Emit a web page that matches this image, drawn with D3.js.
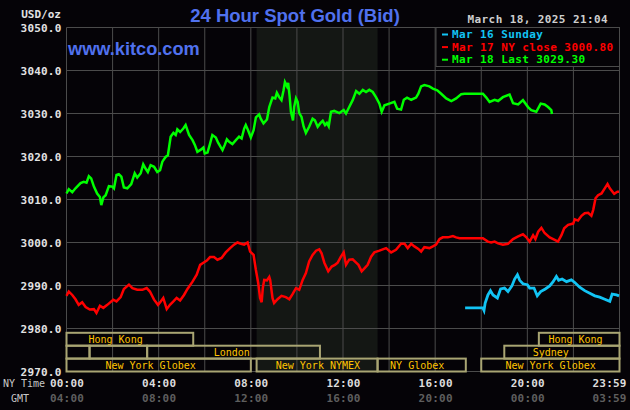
<!DOCTYPE html>
<meta charset="utf-8">
<style>
  body { margin: 0; background: #050307; }
  svg { display: block; }
  text { font-family: "DejaVu Sans Mono", monospace; }
</style>
<body>
<script src="https://d3js.org/d3.v7.min.js"></script>
<script>
  // each point is [NY time in hours, price]
  var mar18 = [[0.00,3011.4],[0.10,3012.4],[0.25,3011.7],[0.39,3012.6],[0.61,3013.8],[0.75,3014.1],[0.87,3013.9],[0.97,3015.4],[1.07,3014.9],[1.19,3013.0],[1.33,3011.4],[1.45,3010.6],[1.51,3008.7],[1.60,3010.5],[1.70,3011.0],[1.84,3013.1],[1.99,3013.0],[2.06,3012.6],[2.17,3015.7],[2.27,3015.9],[2.38,3015.3],[2.49,3012.8],[2.64,3012.6],[2.81,3013.6],[2.96,3016.1],[3.07,3015.1],[3.22,3016.1],[3.33,3018.2],[3.43,3017.2],[3.53,3016.4],[3.65,3018.0],[3.80,3017.6],[3.94,3016.4],[4.06,3016.8],[4.16,3018.8],[4.30,3019.9],[4.40,3020.3],[4.52,3024.6],[4.64,3025.5],[4.74,3025.0],[4.81,3026.3],[4.93,3025.7],[5.07,3026.5],[5.17,3027.3],[5.32,3025.0],[5.47,3023.8],[5.57,3022.7],[5.68,3021.1],[5.83,3021.6],[5.94,3022.1],[6.00,3020.7],[6.12,3020.9],[6.23,3023.0],[6.33,3025.0],[6.48,3024.4],[6.58,3023.2],[6.70,3022.1],[6.77,3021.5],[6.87,3022.7],[6.96,3024.0],[7.06,3023.4],[7.20,3022.9],[7.35,3023.8],[7.49,3024.6],[7.60,3024.2],[7.71,3026.5],[7.78,3027.3],[7.88,3026.1],[8.00,3024.4],[8.12,3026.1],[8.22,3029.1],[8.36,3029.8],[8.43,3028.8],[8.55,3027.7],[8.70,3028.6],[8.80,3031.5],[8.94,3033.7],[9.06,3033.5],[9.13,3034.8],[9.23,3033.8],[9.33,3033.1],[9.42,3035.4],[9.48,3037.3],[9.57,3036.3],[9.62,3037.1],[9.68,3034.2],[9.74,3030.4],[9.83,3028.4],[9.88,3031.5],[9.96,3033.5],[10.03,3032.7],[10.10,3030.1],[10.20,3029.2],[10.29,3027.0],[10.39,3025.5],[10.53,3026.9],[10.68,3028.8],[10.78,3028.4],[10.90,3026.9],[11.01,3027.7],[11.12,3028.3],[11.22,3027.3],[11.30,3027.8],[11.38,3027.0],[11.48,3030.4],[11.62,3030.6],[11.84,3030.1],[12.03,3030.8],[12.13,3030.0],[12.27,3031.5],[12.42,3033.1],[12.57,3035.2],[12.71,3034.6],[12.86,3035.5],[13.00,3035.0],[13.14,3035.5],[13.29,3035.0],[13.43,3033.8],[13.58,3032.3],[13.68,3030.4],[13.80,3031.9],[14.01,3032.3],[14.23,3032.7],[14.35,3031.1],[14.52,3030.9],[14.64,3033.2],[14.78,3033.7],[14.96,3033.2],[15.17,3033.7],[15.27,3034.6],[15.39,3036.3],[15.53,3036.6],[15.75,3036.3],[15.90,3035.8],[16.09,3035.4],[16.26,3034.6],[16.48,3033.5],[16.70,3032.9],[16.91,3033.5],[17.13,3034.5],[17.27,3034.6],[18.07,3034.6],[18.22,3033.7],[18.36,3032.7],[18.58,3033.2],[18.73,3032.9],[18.94,3033.8],[19.23,3034.4],[19.38,3032.4],[19.60,3032.1],[19.81,3033.1],[20.03,3031.5],[20.17,3030.8],[20.39,3030.4],[20.58,3032.3],[20.75,3032.1],[20.90,3031.5],[21.04,3030.8],[21.07,3029.9]];

  var mar17 = [[0.00,2987.6],[0.10,2988.6],[0.25,2987.8],[0.39,2986.8],[0.53,2985.5],[0.68,2986.1],[0.83,2985.0],[1.01,2984.4],[1.19,2984.5],[1.30,2983.6],[1.45,2985.3],[1.60,2984.8],[1.77,2985.5],[2.03,2986.7],[2.17,2986.3],[2.35,2987.3],[2.49,2989.2],[2.71,2990.2],[2.86,2989.4],[3.07,2989.0],[3.29,2989.0],[3.48,2989.4],[3.62,2988.6],[3.80,2986.7],[3.97,2985.5],[4.09,2986.3],[4.20,2987.1],[4.35,2984.5],[4.49,2985.5],[4.64,2986.3],[4.78,2987.1],[4.93,2986.5],[5.10,2987.8],[5.25,2989.2],[5.47,2990.9],[5.65,2992.5],[5.80,2994.8],[5.94,2995.3],[6.09,2995.8],[6.23,2996.6],[6.40,2996.6],[6.55,2996.0],[6.73,2996.4],[6.91,2997.7],[7.10,2998.7],[7.27,2999.5],[7.42,3000.0],[7.57,2999.7],[7.71,2999.5],[7.86,3000.0],[7.97,2997.9],[8.12,2997.1],[8.22,2993.6],[8.32,2990.6],[8.40,2987.1],[8.47,2986.1],[8.52,2989.4],[8.58,2991.3],[8.70,2991.2],[8.80,2992.0],[8.84,2991.3],[8.94,2987.1],[9.01,2985.9],[9.16,2986.8],[9.33,2987.6],[9.52,2987.3],[9.67,2986.8],[9.81,2988.0],[9.96,2989.4],[10.10,2989.0],[10.25,2991.3],[10.39,2992.9],[10.53,2995.6],[10.68,2997.1],[10.83,2998.1],[10.97,2998.4],[11.07,2997.5],[11.19,2995.3],[11.36,2993.3],[11.51,2994.4],[11.65,2994.8],[11.77,2995.3],[11.91,2996.7],[12.03,2997.7],[12.13,2994.8],[12.27,2996.0],[12.42,2996.1],[12.57,2995.3],[12.67,2994.8],[12.81,2993.3],[12.93,2994.0],[13.07,2994.8],[13.22,2996.7],[13.36,2997.7],[13.58,2998.1],[13.87,2998.7],[14.09,2997.7],[14.30,2998.3],[14.52,2999.7],[14.67,2999.7],[14.81,2998.7],[14.96,2999.7],[15.10,2999.1],[15.27,2998.5],[15.39,2997.9],[15.53,2998.9],[15.75,2998.7],[15.90,2999.1],[16.04,2999.5],[16.19,3000.8],[16.33,3001.2],[16.55,3001.2],[16.77,3001.5],[16.91,3001.2],[17.06,3001.0],[18.07,3001.0],[18.29,3000.2],[18.43,3000.0],[18.58,3000.2],[18.73,2999.8],[18.94,2999.5],[19.16,2999.7],[19.38,3000.8],[19.60,3001.4],[19.81,3001.9],[19.96,3001.2],[20.10,3000.2],[20.25,3001.7],[20.35,3000.8],[20.47,3002.5],[20.61,3003.4],[20.75,3002.2],[20.97,3001.2],[21.19,3000.6],[21.33,3000.2],[21.48,3001.7],[21.60,3003.3],[21.77,3004.1],[21.99,3004.4],[22.06,3005.4],[22.20,3005.1],[22.35,3006.2],[22.49,3006.8],[22.64,3006.9],[22.78,3006.2],[22.86,3007.6],[22.96,3010.3],[23.07,3011.0],[23.22,3011.4],[23.36,3012.6],[23.48,3013.6],[23.58,3012.6],[23.77,3011.3],[23.91,3011.8],[23.98,3011.8]];

  var mar16 = [[17.30,2984.8],[18.07,2984.8],[18.12,2984.2],[18.17,2985.9],[18.29,2987.8],[18.40,2988.8],[18.51,2987.8],[18.70,2987.1],[18.84,2989.2],[19.01,2989.4],[19.16,2988.6],[19.33,2989.9],[19.45,2991.5],[19.57,2992.5],[19.67,2991.2],[19.81,2990.4],[20.00,2990.2],[20.10,2989.4],[20.29,2989.4],[20.43,2987.6],[20.58,2988.6],[20.78,2989.2],[20.97,2989.9],[21.12,2990.9],[21.26,2992.1],[21.36,2991.2],[21.51,2991.5],[21.70,2990.9],[21.91,2991.3],[22.06,2990.7],[22.27,2989.6],[22.49,2988.8],[22.71,2988.2],[22.93,2987.6],[23.14,2987.3],[23.36,2986.8],[23.58,2986.3],[23.68,2988.0],[23.87,2987.8],[23.98,2987.6]];

  var seriesNames = ["Mar 16 Sunday", "Mar 17 NY close 3000.80", "Mar 18 Last 3029.30"];
  var seriesColors = ["#12c4f4", "#ff0000", "#00ff00"];

  var yTicks = [2970, 2980, 2990, 3000, 3010, 3020, 3030, 3040, 3050];
  var nyTicks = [0, 4, 8, 12, 16, 20, 23.983];
  var nyLabels = ["00:00", "04:00", "08:00", "12:00", "16:00", "20:00", "23:59"];
  var gmtLabels = ["04:00", "08:00", "12:00", "16:00", "20:00", "00:00", "03:59"];

  // [row, start hour, end hour, label, label centre hour]
  var sessions = [
    [0, 0, 5.5, "Hong Kong", 2.13],
    [0, 20.5, 24, "Hong Kong", 22.09],
    [1, 0, 1, "", 0],
    [1, 1, 3.5, "", 0],
    [1, 3.5, 11, "London", 7.17],
    [1, 19, 24, "Sydney", 21.02],
    [2, 0, 8, "New York Globex", 3.65],
    [2, 8.25, 13.5, "New York NYMEX", 10.91],
    [2, 13.5, 17.33, "NY Globex", 15.22],
    [2, 18, 24, "New York Globex", 21.01]
  ];
  var nymexHours = [8.25, 13.5];

  var W = 630, H = 410;
  var gridColor = "#4b4b4b";

  var x = d3.scaleLinear().domain([0, 24]).range([66.5, 619.5]);
  var y = d3.scaleLinear().domain([2970, 3050]).range([371.5, 27.5]);

  var svg = d3.select("body").append("svg")
    .attr("width", W)
    .attr("height", H);

  svg.append("rect")
    .attr("width", W).attr("height", H)
    .attr("fill", "#050307");

  // NYMEX open shading
  svg.append("rect")
    .attr("x", x(nymexHours[0]))
    .attr("y", y(3050))
    .attr("width", x(nymexHours[1]) - x(nymexHours[0]))
    .attr("height", y(2970) - y(3050))
    .attr("fill", "#141714");

  // grid
  svg.append("g").selectAll("line")
    .data(d3.range(0, 25, 2))
    .enter().append("line")
    .attr("x1", d => x(d)).attr("x2", d => x(d))
    .attr("y1", y(3050)).attr("y2", y(2970))
    .attr("stroke", gridColor);

  svg.append("g").selectAll("line")
    .data(yTicks)
    .enter().append("line")
    .attr("x1", x(0)).attr("x2", x(24))
    .attr("y1", d => y(d)).attr("y2", d => y(d))
    .attr("stroke", gridColor);

  // session rows, three price units tall each
  var sess = svg.append("g").selectAll("g")
    .data(sessions)
    .enter().append("g");

  sess.append("rect")
    .attr("x", d => x(d[1]))
    .attr("y", d => y(2979 - 3 * d[0]))
    .attr("width", d => x(d[2]) - x(d[1]))
    .attr("height", d => y(2976 - 3 * d[0]) - y(2979 - 3 * d[0]))
    .attr("fill", "none")
    .attr("stroke", "#a9a573")
    .attr("stroke-width", 2);

  sess.append("text")
    .attr("x", d => x(d[4]))
    .attr("y", d => y(2977.5 - 3 * d[0]) + 4)
    .attr("text-anchor", "middle")
    .attr("fill", "#ffc400")
    .style("font-size", "10px")
    .text(d => d[3]);

  // price lines
  var line = d3.line()
    .x(d => x(d[0]))
    .y(d => y(d[1]));

  [mar16, mar17, mar18].forEach(function (s, i) {
    svg.append("path")
      .datum(s)
      .attr("fill", "none")
      .attr("stroke", seriesColors[i])
      .attr("stroke-width", i == 0 ? 2.8 : 2.5)
      .attr("d", line);
  });

  // legend
  var lg = svg.append("g");
  lg.append("rect")
    .attr("x", 436).attr("y", 27.5)
    .attr("width", 183.5).attr("height", 39)
    .attr("fill", "#050307")
    .attr("stroke", gridColor);

  var items = lg.selectAll(".item")
    .data(seriesNames)
    .enter().append("g")
    .attr("transform", (d, i) => "translate(442," + (38 + i * 12.6) + ")");

  items.append("line")
    .attr("x1", 0).attr("x2", 6)
    .attr("y1", -3.5).attr("y2", -3.5)
    .attr("stroke", (d, i) => seriesColors[i])
    .attr("stroke-width", 2);

  items.append("text")
    .attr("x", 10)
    .attr("fill", (d, i) => seriesColors[i])
    .style("font-size", "11px")
    .style("font-weight", "bold")
    .style("letter-spacing", "0.4px")
    .text(d => d);

  // axes
  var yAxis = d3.axisLeft(y)
    .tickValues(yTicks)
    .tickFormat(d3.format(".1f"))
    .tickSize(0)
    .tickPadding(5);

  var ya = svg.append("g")
    .attr("transform", "translate(" + x(0) + ",0)")
    .call(yAxis);
  ya.select(".domain").remove();
  ya.selectAll("text")
    .attr("fill", "#e2e2e2")
    .style("font-family", "DejaVu Sans Mono")
    .style("font-size", "11px")
    .style("font-weight", "bold")
    .style("letter-spacing", "0.2px");

  function timeAxis(labels, ypos, color) {
    var g = svg.append("g")
      .attr("transform", "translate(0," + ypos + ")")
      .call(d3.axisBottom(x)
        .tickValues(nyTicks)
        .tickFormat((d, i) => labels[i])
        .tickSize(0)
        .tickPadding(0));
    g.select(".domain").remove();
    g.selectAll("text")
      .attr("dy", null)
      .attr("fill", color)
      .style("font-family", "DejaVu Sans Mono")
      .style("font-size", "11px")
      .style("font-weight", "bold")
      .style("letter-spacing", "0.2px");
    g.selectAll(".tick:last-of-type text")
      .attr("text-anchor", "end")
      .attr("x", 7);
  }
  timeAxis(nyLabels, 387, "#dcdcdc");
  timeAxis(gmtLabels, 401.5, "#5e5e5e");

  svg.append("text")
    .attr("x", 3).attr("y", 387)
    .attr("fill", "#c8c8c8")
    .style("font-size", "10px")
    .text("NY Time");

  svg.append("text")
    .attr("x", 11).attr("y", 401.5)
    .attr("fill", "#c8c8c8")
    .style("font-size", "10px")
    .text("GMT");

  svg.append("text")
    .attr("x", 61).attr("y", 17.5)
    .attr("text-anchor", "end")
    .attr("fill", "#e2e2e2")
    .style("font-size", "11px")
    .style("font-weight", "bold")
    .text("USD/oz");

  svg.append("text")
    .attr("x", 608).attr("y", 22.5)
    .attr("text-anchor", "end")
    .attr("fill", "#cfcfcf")
    .style("font-size", "11px")
    .style("font-weight", "bold")
    .style("letter-spacing", "0.4px")
    .text("March 18, 2025 21:04");

  svg.append("text")
    .attr("x", 295).attr("y", 21.7)
    .attr("text-anchor", "middle")
    .attr("fill", "#5071ee")
    .style("font-family", "'Liberation Sans', Arial, sans-serif")
    .style("font-size", "18.5px")
    .style("font-weight", "bold")
    .text("24 Hour Spot Gold (Bid)");

  svg.append("text")
    .attr("x", 68).attr("y", 55)
    .attr("fill", "#5071ee")
    .style("font-family", "'Liberation Sans', Arial, sans-serif")
    .style("font-size", "18.2px")
    .style("font-weight", "bold")
    .text("www.kitco.com");
</script>
